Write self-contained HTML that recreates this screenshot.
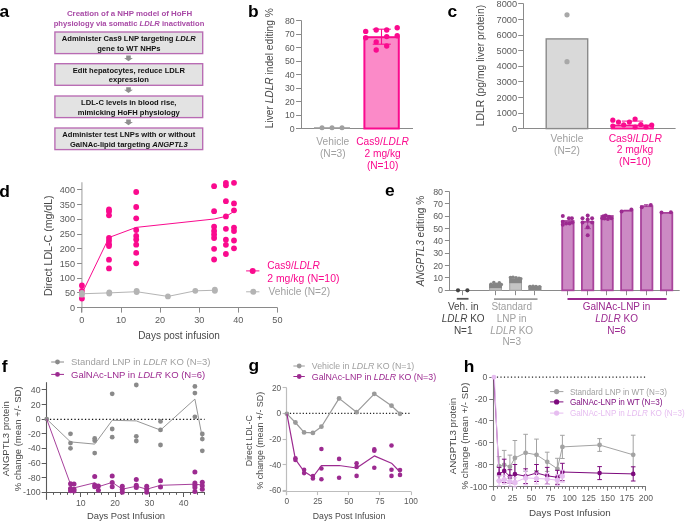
<!DOCTYPE html>
<html><head><meta charset="utf-8"><style>
html,body{margin:0;padding:0;background:#fff;}
svg{display:block;font-family:"Liberation Sans",sans-serif;will-change:transform;}
</style></head><body>
<svg width="685" height="522" viewBox="0 0 685 522">
<rect width="685" height="522" fill="#fff"/>
<text x="-0.60" y="17.00" font-size="17.4" fill="#000" text-anchor="start" font-weight="bold" >a</text>
<text x="129.50" y="16.30" font-size="7.9" fill="#a84aa6" text-anchor="middle" font-weight="bold" >Creation of a NHP model of HoFH</text>
<text x="129.00" y="25.60" font-size="7.9" fill="#a84aa6" text-anchor="middle" font-weight="bold" textLength="150.6" lengthAdjust="spacingAndGlyphs">physiology via somatic <tspan font-style="italic">LDLR</tspan> inactivation</text>
<rect x="54.90" y="32.00" width="147.80" height="21.60" fill="#e3e3e3" stroke="#b86ab3" stroke-width="1.35"/>
<text x="128.80" y="41.00" font-size="7.6" fill="#111" text-anchor="middle" font-weight="bold" >Administer Cas9 LNP targeting <tspan font-style="italic">LDLR</tspan></text>
<text x="128.80" y="50.50" font-size="7.6" fill="#111" text-anchor="middle" font-weight="bold" >gene to WT NHPs</text>
<path d="M126.2,55.60 h4.6 v2.4 h2.1 l-4.4,3.3 l-4.4,-3.3 h2.1 z" fill="#8f8f8f"/>
<rect x="54.90" y="63.70" width="147.80" height="21.60" fill="#e3e3e3" stroke="#b86ab3" stroke-width="1.35"/>
<text x="128.80" y="72.70" font-size="7.6" fill="#111" text-anchor="middle" font-weight="bold" >Edit hepatocytes, reduce LDLR</text>
<text x="128.80" y="82.20" font-size="7.6" fill="#111" text-anchor="middle" font-weight="bold" >expression</text>
<path d="M126.2,87.30 h4.6 v2.4 h2.1 l-4.4,3.3 l-4.4,-3.3 h2.1 z" fill="#8f8f8f"/>
<rect x="54.90" y="96.00" width="147.80" height="21.60" fill="#e3e3e3" stroke="#b86ab3" stroke-width="1.35"/>
<text x="128.80" y="105.00" font-size="7.6" fill="#111" text-anchor="middle" font-weight="bold" >LDL-C levels in blood rise,</text>
<text x="128.80" y="114.50" font-size="7.6" fill="#111" text-anchor="middle" font-weight="bold" >mimicking HoFH physiology</text>
<path d="M126.2,119.60 h4.6 v2.4 h2.1 l-4.4,3.3 l-4.4,-3.3 h2.1 z" fill="#8f8f8f"/>
<rect x="54.90" y="128.00" width="147.80" height="21.60" fill="#e3e3e3" stroke="#b86ab3" stroke-width="1.35"/>
<text x="128.80" y="137.00" font-size="7.6" fill="#111" text-anchor="middle" font-weight="bold" >Administer test LNPs with or without</text>
<text x="128.80" y="146.50" font-size="7.6" fill="#111" text-anchor="middle" font-weight="bold" >GalNAc-lipid targeting <tspan font-style="italic">ANGPTL3</tspan></text>
<text x="248.00" y="16.90" font-size="17.4" fill="#000" text-anchor="start" font-weight="bold" >b</text>
<line x1="301.50" y1="20.50" x2="301.50" y2="128.50" stroke="#8a8a8a" stroke-width="1" />
<line x1="296.10" y1="128.50" x2="413.00" y2="128.50" stroke="#8a8a8a" stroke-width="1" />
<line x1="296.10" y1="128.50" x2="301.50" y2="128.50" stroke="#8a8a8a" stroke-width="1" />
<text x="294.70" y="131.50" font-size="8.8" fill="#5a5a5a" text-anchor="end" font-weight="normal" >0</text>
<line x1="296.10" y1="115.50" x2="301.50" y2="115.50" stroke="#8a8a8a" stroke-width="1" />
<text x="294.70" y="118.00" font-size="8.8" fill="#5a5a5a" text-anchor="end" font-weight="normal" >10</text>
<line x1="296.10" y1="101.50" x2="301.50" y2="101.50" stroke="#8a8a8a" stroke-width="1" />
<text x="294.70" y="104.50" font-size="8.8" fill="#5a5a5a" text-anchor="end" font-weight="normal" >20</text>
<line x1="296.10" y1="88.50" x2="301.50" y2="88.50" stroke="#8a8a8a" stroke-width="1" />
<text x="294.70" y="91.00" font-size="8.8" fill="#5a5a5a" text-anchor="end" font-weight="normal" >30</text>
<line x1="296.10" y1="74.50" x2="301.50" y2="74.50" stroke="#8a8a8a" stroke-width="1" />
<text x="294.70" y="77.50" font-size="8.8" fill="#5a5a5a" text-anchor="end" font-weight="normal" >40</text>
<line x1="296.10" y1="61.50" x2="301.50" y2="61.50" stroke="#8a8a8a" stroke-width="1" />
<text x="294.70" y="64.00" font-size="8.8" fill="#5a5a5a" text-anchor="end" font-weight="normal" >50</text>
<line x1="296.10" y1="47.50" x2="301.50" y2="47.50" stroke="#8a8a8a" stroke-width="1" />
<text x="294.70" y="50.50" font-size="8.8" fill="#5a5a5a" text-anchor="end" font-weight="normal" >60</text>
<line x1="296.10" y1="34.50" x2="301.50" y2="34.50" stroke="#8a8a8a" stroke-width="1" />
<text x="294.70" y="37.00" font-size="8.8" fill="#5a5a5a" text-anchor="end" font-weight="normal" >70</text>
<line x1="296.10" y1="20.50" x2="301.50" y2="20.50" stroke="#8a8a8a" stroke-width="1" />
<text x="294.70" y="23.50" font-size="8.8" fill="#5a5a5a" text-anchor="end" font-weight="normal" >80</text>
<text x="0" y="0" transform="translate(272.70,68.25) rotate(-90)" font-size="10.2" fill="#484848" text-anchor="middle" >Liver <tspan font-style="italic">LDLR</tspan> indel editing %</text>
<line x1="314.00" y1="128.10" x2="350.00" y2="128.10" stroke="#999" stroke-width="1.8" />
<circle cx="322.00" cy="127.80" r="2.5" fill="#a0a0a0" />
<circle cx="332.00" cy="127.80" r="2.5" fill="#a0a0a0" />
<circle cx="342.00" cy="127.80" r="2.5" fill="#a0a0a0" />
<rect x="364.40" y="37.20" width="34.40" height="91.30" fill="#fb8ac8" stroke="#fa0a8e" stroke-width="2"/>
<line x1="381.50" y1="29.20" x2="381.50" y2="44.20" stroke="#fa0a8e" stroke-width="1.1" />
<line x1="372.70" y1="29.20" x2="390.80" y2="29.20" stroke="#fa0a8e" stroke-width="1.1" />
<line x1="372.70" y1="44.20" x2="390.80" y2="44.20" stroke="#fa0a8e" stroke-width="1.1" />
<circle cx="365.70" cy="31.40" r="2.7" fill="#fa0a8e" />
<circle cx="365.70" cy="37.80" r="2.7" fill="#fa0a8e" />
<circle cx="376.20" cy="30.00" r="2.7" fill="#fa0a8e" />
<circle cx="376.20" cy="41.90" r="2.7" fill="#fa0a8e" />
<circle cx="376.20" cy="50.00" r="2.7" fill="#fa0a8e" />
<circle cx="386.70" cy="30.00" r="2.7" fill="#fa0a8e" />
<circle cx="386.70" cy="36.60" r="2.7" fill="#fa0a8e" />
<circle cx="386.70" cy="46.00" r="2.7" fill="#fa0a8e" />
<circle cx="397.20" cy="27.80" r="2.7" fill="#fa0a8e" />
<circle cx="397.20" cy="35.80" r="2.7" fill="#fa0a8e" />
<text x="332.80" y="145.10" font-size="10.2" fill="#a0a0a0" text-anchor="middle" font-weight="normal" >Vehicle</text>
<text x="332.80" y="157.20" font-size="10.2" fill="#a0a0a0" text-anchor="middle" font-weight="normal" >(N=3)</text>
<text x="382.60" y="145.10" font-size="10.2" fill="#fa0a8e" text-anchor="middle" font-weight="normal" >Cas9/<tspan font-style="italic">LDLR</tspan></text>
<text x="382.60" y="157.20" font-size="10.2" fill="#fa0a8e" text-anchor="middle" font-weight="normal" >2 mg/kg</text>
<text x="382.60" y="169.40" font-size="10.2" fill="#fa0a8e" text-anchor="middle" font-weight="normal" >(N=10)</text>
<text x="447.60" y="17.00" font-size="17.4" fill="#000" text-anchor="start" font-weight="bold" >c</text>
<line x1="523.50" y1="3.50" x2="523.50" y2="128.50" stroke="#8a8a8a" stroke-width="1" />
<line x1="518.20" y1="128.50" x2="675.60" y2="128.50" stroke="#8a8a8a" stroke-width="1" />
<line x1="518.20" y1="128.50" x2="523.50" y2="128.50" stroke="#8a8a8a" stroke-width="1" />
<text x="517.00" y="131.70" font-size="9.2" fill="#5a5a5a" text-anchor="end" font-weight="normal" >0</text>
<line x1="518.20" y1="113.50" x2="523.50" y2="113.50" stroke="#8a8a8a" stroke-width="1" />
<text x="517.00" y="116.11" font-size="9.2" fill="#5a5a5a" text-anchor="end" font-weight="normal" >1000</text>
<line x1="518.20" y1="97.50" x2="523.50" y2="97.50" stroke="#8a8a8a" stroke-width="1" />
<text x="517.00" y="100.52" font-size="9.2" fill="#5a5a5a" text-anchor="end" font-weight="normal" >2000</text>
<line x1="518.20" y1="81.50" x2="523.50" y2="81.50" stroke="#8a8a8a" stroke-width="1" />
<text x="517.00" y="84.93" font-size="9.2" fill="#5a5a5a" text-anchor="end" font-weight="normal" >3000</text>
<line x1="518.20" y1="66.50" x2="523.50" y2="66.50" stroke="#8a8a8a" stroke-width="1" />
<text x="517.00" y="69.34" font-size="9.2" fill="#5a5a5a" text-anchor="end" font-weight="normal" >4000</text>
<line x1="518.20" y1="50.50" x2="523.50" y2="50.50" stroke="#8a8a8a" stroke-width="1" />
<text x="517.00" y="53.75" font-size="9.2" fill="#5a5a5a" text-anchor="end" font-weight="normal" >5000</text>
<line x1="518.20" y1="35.50" x2="523.50" y2="35.50" stroke="#8a8a8a" stroke-width="1" />
<text x="517.00" y="38.16" font-size="9.2" fill="#5a5a5a" text-anchor="end" font-weight="normal" >6000</text>
<line x1="518.20" y1="19.50" x2="523.50" y2="19.50" stroke="#8a8a8a" stroke-width="1" />
<text x="517.00" y="22.57" font-size="9.2" fill="#5a5a5a" text-anchor="end" font-weight="normal" >7000</text>
<line x1="518.20" y1="3.50" x2="523.50" y2="3.50" stroke="#8a8a8a" stroke-width="1" />
<text x="517.00" y="6.98" font-size="9.2" fill="#5a5a5a" text-anchor="end" font-weight="normal" >8000</text>
<text x="0" y="0" transform="translate(484.20,65.55) rotate(-90)" font-size="10.35" fill="#484848" text-anchor="middle" >LDLR (pg/mg liver protein)</text>
<rect x="546.20" y="38.90" width="41.50" height="89.70" fill="#d9d9d9" stroke="#8a8a8a" stroke-width="1.4"/>
<circle cx="567.00" cy="14.80" r="2.6" fill="#a8a8a8" />
<circle cx="567.00" cy="61.70" r="2.6" fill="#a8a8a8" />
<rect x="611.80" y="125.40" width="41.20" height="3.20" fill="#fb8ac8" stroke="#fa0a8e" stroke-width="1.6"/>
<line x1="621.80" y1="121.10" x2="643.20" y2="121.10" stroke="#fa0a8e" stroke-width="1.0" />
<circle cx="612.80" cy="120.20" r="2.6" fill="#fa0a8e" />
<circle cx="612.80" cy="126.00" r="2.6" fill="#fa0a8e" />
<circle cx="618.50" cy="122.10" r="2.6" fill="#fa0a8e" />
<circle cx="623.70" cy="124.90" r="2.6" fill="#fa0a8e" />
<circle cx="629.40" cy="122.10" r="2.6" fill="#fa0a8e" />
<circle cx="635.10" cy="119.00" r="2.6" fill="#fa0a8e" />
<circle cx="635.10" cy="127.00" r="2.6" fill="#fa0a8e" />
<circle cx="640.80" cy="124.50" r="2.6" fill="#fa0a8e" />
<circle cx="646.00" cy="127.00" r="2.6" fill="#fa0a8e" />
<circle cx="651.70" cy="125.10" r="2.6" fill="#fa0a8e" />
<text x="567.00" y="141.90" font-size="10.2" fill="#a0a0a0" text-anchor="middle" font-weight="normal" >Vehicle</text>
<text x="567.00" y="153.60" font-size="10.2" fill="#a0a0a0" text-anchor="middle" font-weight="normal" >(N=2)</text>
<text x="635.30" y="141.60" font-size="10.3" fill="#fa0a8e" text-anchor="middle" font-weight="normal" >Cas9/<tspan font-style="italic">LDLR</tspan></text>
<text x="635.00" y="153.40" font-size="10.3" fill="#fa0a8e" text-anchor="middle" font-weight="normal" >2 mg/kg</text>
<text x="635.00" y="165.20" font-size="10.3" fill="#fa0a8e" text-anchor="middle" font-weight="normal" >(N=10)</text>
<text x="-0.80" y="196.60" font-size="17.4" fill="#000" text-anchor="start" font-weight="bold" >d</text>
<line x1="81.90" y1="182.20" x2="81.90" y2="312.60" stroke="#b8b8b8" stroke-width="1.4" />
<line x1="77.10" y1="307.50" x2="277.40" y2="307.50" stroke="#8a8a8a" stroke-width="1" />
<line x1="77.10" y1="307.50" x2="81.90" y2="307.50" stroke="#8a8a8a" stroke-width="1" />
<text x="75.00" y="310.70" font-size="9.1" fill="#5a5a5a" text-anchor="end" font-weight="normal" >0</text>
<line x1="77.10" y1="292.50" x2="81.90" y2="292.50" stroke="#8a8a8a" stroke-width="1" />
<text x="75.00" y="295.99" font-size="9.1" fill="#5a5a5a" text-anchor="end" font-weight="normal" >50</text>
<line x1="77.10" y1="278.50" x2="81.90" y2="278.50" stroke="#8a8a8a" stroke-width="1" />
<text x="75.00" y="281.28" font-size="9.1" fill="#5a5a5a" text-anchor="end" font-weight="normal" >100</text>
<line x1="77.10" y1="263.50" x2="81.90" y2="263.50" stroke="#8a8a8a" stroke-width="1" />
<text x="75.00" y="266.56" font-size="9.1" fill="#5a5a5a" text-anchor="end" font-weight="normal" >150</text>
<line x1="77.10" y1="248.50" x2="81.90" y2="248.50" stroke="#8a8a8a" stroke-width="1" />
<text x="75.00" y="251.85" font-size="9.1" fill="#5a5a5a" text-anchor="end" font-weight="normal" >200</text>
<line x1="77.10" y1="234.50" x2="81.90" y2="234.50" stroke="#8a8a8a" stroke-width="1" />
<text x="75.00" y="237.14" font-size="9.1" fill="#5a5a5a" text-anchor="end" font-weight="normal" >250</text>
<line x1="77.10" y1="219.50" x2="81.90" y2="219.50" stroke="#8a8a8a" stroke-width="1" />
<text x="75.00" y="222.43" font-size="9.1" fill="#5a5a5a" text-anchor="end" font-weight="normal" >300</text>
<line x1="77.10" y1="204.50" x2="81.90" y2="204.50" stroke="#8a8a8a" stroke-width="1" />
<text x="75.00" y="207.71" font-size="9.1" fill="#5a5a5a" text-anchor="end" font-weight="normal" >350</text>
<line x1="77.10" y1="189.50" x2="81.90" y2="189.50" stroke="#8a8a8a" stroke-width="1" />
<text x="75.00" y="193.00" font-size="9.1" fill="#5a5a5a" text-anchor="end" font-weight="normal" >400</text>
<line x1="81.50" y1="307.50" x2="81.50" y2="312.60" stroke="#8a8a8a" stroke-width="1" />
<text x="81.90" y="323.30" font-size="9.1" fill="#5a5a5a" text-anchor="middle" font-weight="normal" >0</text>
<line x1="121.50" y1="307.50" x2="121.50" y2="312.60" stroke="#8a8a8a" stroke-width="1" />
<text x="121.00" y="323.30" font-size="9.1" fill="#5a5a5a" text-anchor="middle" font-weight="normal" >10</text>
<line x1="160.50" y1="307.50" x2="160.50" y2="312.60" stroke="#8a8a8a" stroke-width="1" />
<text x="160.10" y="323.30" font-size="9.1" fill="#5a5a5a" text-anchor="middle" font-weight="normal" >20</text>
<line x1="199.50" y1="307.50" x2="199.50" y2="312.60" stroke="#8a8a8a" stroke-width="1" />
<text x="199.20" y="323.30" font-size="9.1" fill="#5a5a5a" text-anchor="middle" font-weight="normal" >30</text>
<line x1="238.50" y1="307.50" x2="238.50" y2="312.60" stroke="#8a8a8a" stroke-width="1" />
<text x="238.30" y="323.30" font-size="9.1" fill="#5a5a5a" text-anchor="middle" font-weight="normal" >40</text>
<line x1="277.50" y1="307.50" x2="277.50" y2="312.60" stroke="#8a8a8a" stroke-width="1" />
<text x="277.40" y="323.30" font-size="9.1" fill="#5a5a5a" text-anchor="middle" font-weight="normal" >50</text>
<text x="179.00" y="339.00" font-size="10" fill="#484848" text-anchor="middle" font-weight="normal" >Days post infusion</text>
<text x="0" y="0" transform="translate(52.30,245.70) rotate(-90)" font-size="10.6" fill="#484848" text-anchor="middle" >Direct LDL-C (mg/dL)</text>
<polyline points="83.80,289.70 109.00,237.50 136.20,227.40 214.10,219.00 225.90,216.40 234.00,211.50" fill="none" stroke="#fa0a8e" stroke-width="1" stroke-linejoin="round" />
<circle cx="81.90" cy="285.40" r="2.9" fill="#fa0a8e" />
<circle cx="81.90" cy="291.00" r="2.9" fill="#fa0a8e" />
<circle cx="81.90" cy="298.50" r="2.9" fill="#fa0a8e" />
<circle cx="109.00" cy="209.50" r="2.9" fill="#fa0a8e" />
<circle cx="109.00" cy="211.50" r="2.9" fill="#fa0a8e" />
<circle cx="109.00" cy="215.30" r="2.9" fill="#fa0a8e" />
<circle cx="109.00" cy="237.80" r="2.9" fill="#fa0a8e" />
<circle cx="109.00" cy="240.70" r="2.9" fill="#fa0a8e" />
<circle cx="109.00" cy="244.20" r="2.9" fill="#fa0a8e" />
<circle cx="109.00" cy="246.00" r="2.9" fill="#fa0a8e" />
<circle cx="109.00" cy="259.70" r="2.9" fill="#fa0a8e" />
<circle cx="109.00" cy="268.40" r="2.9" fill="#fa0a8e" />
<circle cx="136.20" cy="192.00" r="2.9" fill="#fa0a8e" />
<circle cx="136.20" cy="207.00" r="2.9" fill="#fa0a8e" />
<circle cx="136.20" cy="218.30" r="2.9" fill="#fa0a8e" />
<circle cx="136.20" cy="230.00" r="2.9" fill="#fa0a8e" />
<circle cx="136.20" cy="236.00" r="2.9" fill="#fa0a8e" />
<circle cx="136.20" cy="239.50" r="2.9" fill="#fa0a8e" />
<circle cx="136.20" cy="244.70" r="2.9" fill="#fa0a8e" />
<circle cx="136.20" cy="252.90" r="2.9" fill="#fa0a8e" />
<circle cx="136.20" cy="263.30" r="2.9" fill="#fa0a8e" />
<circle cx="214.10" cy="186.20" r="2.9" fill="#fa0a8e" />
<circle cx="214.10" cy="211.20" r="2.9" fill="#fa0a8e" />
<circle cx="214.10" cy="226.70" r="2.9" fill="#fa0a8e" />
<circle cx="214.10" cy="231.00" r="2.9" fill="#fa0a8e" />
<circle cx="214.10" cy="234.50" r="2.9" fill="#fa0a8e" />
<circle cx="214.10" cy="238.00" r="2.9" fill="#fa0a8e" />
<circle cx="214.10" cy="248.80" r="2.9" fill="#fa0a8e" />
<circle cx="214.10" cy="259.50" r="2.9" fill="#fa0a8e" />
<circle cx="225.90" cy="182.80" r="2.9" fill="#fa0a8e" />
<circle cx="225.90" cy="185.30" r="2.9" fill="#fa0a8e" />
<circle cx="225.90" cy="201.20" r="2.9" fill="#fa0a8e" />
<circle cx="225.90" cy="216.40" r="2.9" fill="#fa0a8e" />
<circle cx="225.90" cy="228.80" r="2.9" fill="#fa0a8e" />
<circle cx="225.90" cy="239.70" r="2.9" fill="#fa0a8e" />
<circle cx="225.90" cy="244.80" r="2.9" fill="#fa0a8e" />
<circle cx="225.90" cy="254.00" r="2.9" fill="#fa0a8e" />
<circle cx="234.00" cy="182.80" r="2.9" fill="#fa0a8e" />
<circle cx="234.00" cy="203.40" r="2.9" fill="#fa0a8e" />
<circle cx="234.00" cy="210.30" r="2.9" fill="#fa0a8e" />
<circle cx="234.00" cy="227.60" r="2.9" fill="#fa0a8e" />
<circle cx="234.00" cy="231.00" r="2.9" fill="#fa0a8e" />
<circle cx="234.00" cy="240.50" r="2.9" fill="#fa0a8e" />
<circle cx="234.00" cy="248.30" r="2.9" fill="#fa0a8e" />
<polyline points="81.90,293.77 109.27,292.89 136.64,291.71 167.92,296.42 195.29,290.83 214.84,290.24" fill="none" stroke="#b4b4b4" stroke-width="1" stroke-linejoin="round" />
<circle cx="81.90" cy="294.65" r="2.9" fill="#b4b4b4" />
<circle cx="81.90" cy="292.89" r="2.9" fill="#b4b4b4" />
<circle cx="109.27" cy="293.48" r="2.9" fill="#b4b4b4" />
<circle cx="109.27" cy="292.30" r="2.9" fill="#b4b4b4" />
<circle cx="136.64" cy="292.00" r="2.9" fill="#b4b4b4" />
<circle cx="136.64" cy="290.83" r="2.9" fill="#b4b4b4" />
<circle cx="167.92" cy="296.42" r="2.9" fill="#b4b4b4" />
<circle cx="195.29" cy="290.83" r="2.9" fill="#b4b4b4" />
<circle cx="214.84" cy="290.83" r="2.9" fill="#b4b4b4" />
<circle cx="214.84" cy="289.65" r="2.9" fill="#b4b4b4" />
<line x1="246.10" y1="270.90" x2="259.40" y2="270.90" stroke="#fa0a8e" stroke-width="1" />
<circle cx="252.70" cy="270.90" r="3" fill="#fa0a8e" />
<text x="267.20" y="268.90" font-size="10.2" fill="#fa0a8e" text-anchor="start" font-weight="normal" >Cas9/<tspan font-style="italic">LDLR</tspan></text>
<text x="267.20" y="281.60" font-size="10.45" fill="#fa0a8e" text-anchor="start" font-weight="normal" >2 mg/kg (N=10)</text>
<line x1="246.10" y1="291.80" x2="259.40" y2="291.80" stroke="#b4b4b4" stroke-width="1" />
<circle cx="253.30" cy="291.80" r="3" fill="#b4b4b4" />
<text x="268.60" y="295.30" font-size="10.2" fill="#a0a0a0" text-anchor="start" font-weight="normal" >Vehicle (N=2)</text>
<text x="385.00" y="196.20" font-size="17.4" fill="#000" text-anchor="start" font-weight="bold" >e</text>
<line x1="449.50" y1="191.50" x2="449.50" y2="290.50" stroke="#8a8a8a" stroke-width="1" />
<line x1="444.90" y1="290.50" x2="679.70" y2="290.50" stroke="#8a8a8a" stroke-width="1" />
<line x1="444.90" y1="290.50" x2="449.40" y2="290.50" stroke="#8a8a8a" stroke-width="1" />
<text x="443.00" y="293.40" font-size="8.9" fill="#5a5a5a" text-anchor="end" font-weight="normal" >0</text>
<line x1="444.90" y1="277.50" x2="449.40" y2="277.50" stroke="#8a8a8a" stroke-width="1" />
<text x="443.00" y="281.04" font-size="8.9" fill="#5a5a5a" text-anchor="end" font-weight="normal" >10</text>
<line x1="444.90" y1="265.50" x2="449.40" y2="265.50" stroke="#8a8a8a" stroke-width="1" />
<text x="443.00" y="268.68" font-size="8.9" fill="#5a5a5a" text-anchor="end" font-weight="normal" >20</text>
<line x1="444.90" y1="253.50" x2="449.40" y2="253.50" stroke="#8a8a8a" stroke-width="1" />
<text x="443.00" y="256.32" font-size="8.9" fill="#5a5a5a" text-anchor="end" font-weight="normal" >30</text>
<line x1="444.90" y1="240.50" x2="449.40" y2="240.50" stroke="#8a8a8a" stroke-width="1" />
<text x="443.00" y="243.96" font-size="8.9" fill="#5a5a5a" text-anchor="end" font-weight="normal" >40</text>
<line x1="444.90" y1="228.50" x2="449.40" y2="228.50" stroke="#8a8a8a" stroke-width="1" />
<text x="443.00" y="231.60" font-size="8.9" fill="#5a5a5a" text-anchor="end" font-weight="normal" >50</text>
<line x1="444.90" y1="216.50" x2="449.40" y2="216.50" stroke="#8a8a8a" stroke-width="1" />
<text x="443.00" y="219.24" font-size="8.9" fill="#5a5a5a" text-anchor="end" font-weight="normal" >60</text>
<line x1="444.90" y1="203.50" x2="449.40" y2="203.50" stroke="#8a8a8a" stroke-width="1" />
<text x="443.00" y="206.88" font-size="8.9" fill="#5a5a5a" text-anchor="end" font-weight="normal" >70</text>
<line x1="444.90" y1="191.50" x2="449.40" y2="191.50" stroke="#8a8a8a" stroke-width="1" />
<text x="443.00" y="194.52" font-size="8.9" fill="#5a5a5a" text-anchor="end" font-weight="normal" >80</text>
<line x1="462.50" y1="290.50" x2="462.50" y2="295.20" stroke="#8a8a8a" stroke-width="1" />
<line x1="495.50" y1="290.50" x2="495.50" y2="295.20" stroke="#8a8a8a" stroke-width="1" />
<line x1="515.50" y1="290.50" x2="515.50" y2="295.20" stroke="#8a8a8a" stroke-width="1" />
<line x1="534.50" y1="290.50" x2="534.50" y2="295.20" stroke="#8a8a8a" stroke-width="1" />
<line x1="567.50" y1="290.50" x2="567.50" y2="295.20" stroke="#8a8a8a" stroke-width="1" />
<line x1="587.50" y1="290.50" x2="587.50" y2="295.20" stroke="#8a8a8a" stroke-width="1" />
<line x1="606.50" y1="290.50" x2="606.50" y2="295.20" stroke="#8a8a8a" stroke-width="1" />
<line x1="626.50" y1="290.50" x2="626.50" y2="295.20" stroke="#8a8a8a" stroke-width="1" />
<line x1="646.50" y1="290.50" x2="646.50" y2="295.20" stroke="#8a8a8a" stroke-width="1" />
<line x1="666.50" y1="290.50" x2="666.50" y2="295.20" stroke="#8a8a8a" stroke-width="1" />
<text x="0" y="0" transform="translate(424.20,241.05) rotate(-90)" font-size="10.15" fill="#484848" text-anchor="middle" ><tspan font-style="italic">ANGPTL3</tspan> editing %</text>
<circle cx="458.00" cy="290.30" r="2.1" fill="#444" />
<circle cx="467.40" cy="290.30" r="2.1" fill="#444" />
<line x1="456.80" y1="298.80" x2="468.50" y2="298.80" stroke="#555" stroke-width="1.8" />
<rect x="489.60" y="285.50" width="11.80" height="4.80" fill="#c4c4c4" stroke="#a0a0a0" stroke-width="1"/>
<rect x="489.10" y="283.80" width="12.80" height="4.40" fill="#858585" stroke="none" stroke-width="0"/>
<rect x="509.70" y="279.00" width="11.80" height="11.30" fill="#c4c4c4" stroke="#a0a0a0" stroke-width="1"/>
<rect x="509.20" y="278.60" width="12.80" height="4.60" fill="#858585" stroke="none" stroke-width="0"/>
<rect x="529.00" y="286.40" width="11.80" height="3.90" fill="#c4c4c4" stroke="#a0a0a0" stroke-width="1"/>
<rect x="528.50" y="286.00" width="12.80" height="4.30" fill="#858585" stroke="none" stroke-width="0"/>
<circle cx="491.00" cy="284.20" r="1.8" fill="#858585" />
<circle cx="493.80" cy="282.60" r="1.8" fill="#858585" />
<circle cx="496.50" cy="284.20" r="1.8" fill="#858585" />
<circle cx="499.30" cy="282.80" r="1.8" fill="#858585" />
<circle cx="501.30" cy="284.60" r="1.8" fill="#858585" />
<circle cx="510.50" cy="277.60" r="1.8" fill="#858585" />
<circle cx="513.00" cy="277.20" r="1.8" fill="#858585" />
<circle cx="516.00" cy="277.80" r="1.8" fill="#858585" />
<circle cx="519.00" cy="278.30" r="1.8" fill="#858585" />
<circle cx="520.80" cy="278.80" r="1.8" fill="#858585" />
<circle cx="530.00" cy="286.60" r="1.8" fill="#858585" />
<circle cx="533.00" cy="286.30" r="1.8" fill="#858585" />
<circle cx="536.00" cy="286.50" r="1.8" fill="#858585" />
<circle cx="539.60" cy="286.80" r="1.8" fill="#858585" />
<line x1="494.00" y1="299.10" x2="537.50" y2="299.10" stroke="#999" stroke-width="1.8" />
<rect x="562.20" y="221.00" width="11.40" height="69.30" fill="#cc8ac4" stroke="#a8449c" stroke-width="1.8"/>
<rect x="581.90" y="221.80" width="11.40" height="68.50" fill="#cc8ac4" stroke="#a8449c" stroke-width="1.8"/>
<rect x="601.40" y="216.00" width="11.40" height="74.30" fill="#cc8ac4" stroke="#a8449c" stroke-width="1.8"/>
<rect x="621.10" y="210.80" width="11.40" height="79.50" fill="#cc8ac4" stroke="#a8449c" stroke-width="1.8"/>
<rect x="641.00" y="206.20" width="11.40" height="84.10" fill="#cc8ac4" stroke="#a8449c" stroke-width="1.8"/>
<rect x="660.90" y="212.90" width="11.40" height="77.40" fill="#cc8ac4" stroke="#a8449c" stroke-width="1.8"/>
<circle cx="562.80" cy="216.00" r="2.0" fill="#9c2a90" />
<circle cx="568.90" cy="218.30" r="2.0" fill="#9c2a90" />
<circle cx="571.90" cy="218.30" r="2.0" fill="#9c2a90" />
<circle cx="562.80" cy="221.70" r="2.0" fill="#9c2a90" />
<circle cx="566.20" cy="223.60" r="2.0" fill="#9c2a90" />
<circle cx="569.60" cy="223.60" r="2.0" fill="#9c2a90" />
<circle cx="572.50" cy="222.60" r="2.0" fill="#9c2a90" />
<circle cx="562.80" cy="224.80" r="2.0" fill="#9c2a90" />
<circle cx="587.70" cy="215.40" r="2.0" fill="#9c2a90" />
<circle cx="582.50" cy="218.30" r="2.0" fill="#9c2a90" />
<circle cx="592.10" cy="218.30" r="2.0" fill="#9c2a90" />
<circle cx="587.70" cy="219.50" r="2.0" fill="#9c2a90" />
<circle cx="582.50" cy="222.60" r="2.0" fill="#9c2a90" />
<circle cx="592.10" cy="222.60" r="2.0" fill="#9c2a90" />
<circle cx="587.70" cy="227.30" r="2.0" fill="#9c2a90" />
<circle cx="587.70" cy="235.20" r="2.0" fill="#9c2a90" />
<circle cx="603.40" cy="216.20" r="2.0" fill="#9c2a90" />
<circle cx="605.70" cy="215.60" r="2.0" fill="#9c2a90" />
<circle cx="609.00" cy="216.70" r="2.0" fill="#9c2a90" />
<circle cx="611.30" cy="218.30" r="2.0" fill="#9c2a90" />
<circle cx="607.90" cy="219.00" r="2.0" fill="#9c2a90" />
<circle cx="602.30" cy="218.30" r="2.0" fill="#9c2a90" />
<circle cx="604.50" cy="218.50" r="2.0" fill="#9c2a90" />
<circle cx="621.60" cy="211.50" r="2.0" fill="#9c2a90" />
<circle cx="631.40" cy="209.40" r="2.0" fill="#9c2a90" />
<circle cx="641.80" cy="207.20" r="2.0" fill="#9c2a90" />
<circle cx="650.80" cy="204.90" r="2.0" fill="#9c2a90" />
<circle cx="661.50" cy="212.60" r="2.0" fill="#9c2a90" />
<circle cx="670.90" cy="212.20" r="2.0" fill="#9c2a90" />
<line x1="587.70" y1="215.40" x2="587.70" y2="228.70" stroke="#9c2a90" stroke-width="0.8" />
<line x1="584.50" y1="228.70" x2="590.90" y2="228.70" stroke="#9c2a90" stroke-width="0.8" />
<line x1="623.90" y1="210.30" x2="629.50" y2="210.30" stroke="#9c2a90" stroke-width="0.9" />
<line x1="644.00" y1="204.70" x2="648.50" y2="204.70" stroke="#9c2a90" stroke-width="0.9" />
<line x1="646.20" y1="204.70" x2="646.20" y2="207.00" stroke="#9c2a90" stroke-width="0.8" />
<line x1="567.50" y1="299.00" x2="666.60" y2="299.00" stroke="#9c2a90" stroke-width="1.8" />
<text x="463.20" y="310.00" font-size="10" fill="#444" text-anchor="middle" font-weight="normal" >Veh. in</text>
<text x="463.20" y="321.80" font-size="10" fill="#444" text-anchor="middle" font-weight="normal" ><tspan font-style="italic">LDLR</tspan> KO</text>
<text x="463.20" y="333.50" font-size="10" fill="#444" text-anchor="middle" font-weight="normal" >N=1</text>
<text x="511.70" y="310.00" font-size="10" fill="#a0a0a0" text-anchor="middle" font-weight="normal" >Standard</text>
<text x="511.70" y="321.80" font-size="10" fill="#a0a0a0" text-anchor="middle" font-weight="normal" >LNP in</text>
<text x="511.70" y="333.50" font-size="10" fill="#a0a0a0" text-anchor="middle" font-weight="normal" ><tspan font-style="italic">LDLR</tspan> KO</text>
<text x="511.70" y="345.00" font-size="10" fill="#a0a0a0" text-anchor="middle" font-weight="normal" >N=3</text>
<text x="616.60" y="309.80" font-size="10" fill="#9c2a90" text-anchor="middle" font-weight="normal" >GalNAc-LNP in</text>
<text x="616.60" y="321.90" font-size="10" fill="#9c2a90" text-anchor="middle" font-weight="normal" ><tspan font-style="italic">LDLR</tspan> KO</text>
<text x="616.60" y="333.50" font-size="10" fill="#9c2a90" text-anchor="middle" font-weight="normal" >N=6</text>
<text x="1.80" y="371.50" font-size="17.4" fill="#000" text-anchor="start" font-weight="bold" >f</text>
<line x1="46.50" y1="382.20" x2="46.50" y2="499.80" stroke="#5a5a5a" stroke-width="1.1" />
<line x1="42.10" y1="492.50" x2="205.00" y2="492.50" stroke="#5a5a5a" stroke-width="1.1" />
<line x1="41.70" y1="389.50" x2="46.40" y2="389.50" stroke="#5a5a5a" stroke-width="1" />
<text x="40.60" y="392.97" font-size="8.8" fill="#5a5a5a" text-anchor="end" font-weight="normal" >40</text>
<line x1="41.70" y1="404.50" x2="46.40" y2="404.50" stroke="#5a5a5a" stroke-width="1" />
<text x="40.60" y="407.59" font-size="8.8" fill="#5a5a5a" text-anchor="end" font-weight="normal" >20</text>
<line x1="41.70" y1="419.50" x2="46.40" y2="419.50" stroke="#5a5a5a" stroke-width="1" />
<text x="40.60" y="422.20" font-size="8.8" fill="#5a5a5a" text-anchor="end" font-weight="normal" >0</text>
<line x1="41.70" y1="433.50" x2="46.40" y2="433.50" stroke="#5a5a5a" stroke-width="1" />
<text x="40.60" y="436.81" font-size="8.8" fill="#5a5a5a" text-anchor="end" font-weight="normal" >-20</text>
<line x1="41.70" y1="448.50" x2="46.40" y2="448.50" stroke="#5a5a5a" stroke-width="1" />
<text x="40.60" y="451.43" font-size="8.8" fill="#5a5a5a" text-anchor="end" font-weight="normal" >-40</text>
<line x1="41.70" y1="463.50" x2="46.40" y2="463.50" stroke="#5a5a5a" stroke-width="1" />
<text x="40.60" y="466.04" font-size="8.8" fill="#5a5a5a" text-anchor="end" font-weight="normal" >-60</text>
<line x1="41.70" y1="477.50" x2="46.40" y2="477.50" stroke="#5a5a5a" stroke-width="1" />
<text x="40.60" y="480.66" font-size="8.8" fill="#5a5a5a" text-anchor="end" font-weight="normal" >-80</text>
<line x1="41.70" y1="492.50" x2="46.40" y2="492.50" stroke="#5a5a5a" stroke-width="1" />
<text x="40.60" y="495.27" font-size="8.8" fill="#5a5a5a" text-anchor="end" font-weight="normal" >-100</text>
<line x1="53.50" y1="492.50" x2="53.50" y2="494.80" stroke="#5a5a5a" stroke-width="1" />
<line x1="60.50" y1="492.50" x2="60.50" y2="494.80" stroke="#5a5a5a" stroke-width="1" />
<line x1="67.50" y1="492.50" x2="67.50" y2="494.80" stroke="#5a5a5a" stroke-width="1" />
<line x1="73.50" y1="492.50" x2="73.50" y2="494.80" stroke="#5a5a5a" stroke-width="1" />
<line x1="80.50" y1="492.50" x2="80.50" y2="497.00" stroke="#5a5a5a" stroke-width="1" />
<line x1="87.50" y1="492.50" x2="87.50" y2="494.80" stroke="#5a5a5a" stroke-width="1" />
<line x1="94.50" y1="492.50" x2="94.50" y2="494.80" stroke="#5a5a5a" stroke-width="1" />
<line x1="101.50" y1="492.50" x2="101.50" y2="494.80" stroke="#5a5a5a" stroke-width="1" />
<line x1="108.50" y1="492.50" x2="108.50" y2="494.80" stroke="#5a5a5a" stroke-width="1" />
<line x1="115.50" y1="492.50" x2="115.50" y2="497.00" stroke="#5a5a5a" stroke-width="1" />
<line x1="121.50" y1="492.50" x2="121.50" y2="494.80" stroke="#5a5a5a" stroke-width="1" />
<line x1="128.50" y1="492.50" x2="128.50" y2="494.80" stroke="#5a5a5a" stroke-width="1" />
<line x1="135.50" y1="492.50" x2="135.50" y2="494.80" stroke="#5a5a5a" stroke-width="1" />
<line x1="142.50" y1="492.50" x2="142.50" y2="494.80" stroke="#5a5a5a" stroke-width="1" />
<line x1="149.50" y1="492.50" x2="149.50" y2="497.00" stroke="#5a5a5a" stroke-width="1" />
<line x1="156.50" y1="492.50" x2="156.50" y2="494.80" stroke="#5a5a5a" stroke-width="1" />
<line x1="163.50" y1="492.50" x2="163.50" y2="494.80" stroke="#5a5a5a" stroke-width="1" />
<line x1="169.50" y1="492.50" x2="169.50" y2="494.80" stroke="#5a5a5a" stroke-width="1" />
<line x1="176.50" y1="492.50" x2="176.50" y2="494.80" stroke="#5a5a5a" stroke-width="1" />
<line x1="183.50" y1="492.50" x2="183.50" y2="497.00" stroke="#5a5a5a" stroke-width="1" />
<line x1="190.50" y1="492.50" x2="190.50" y2="494.80" stroke="#5a5a5a" stroke-width="1" />
<line x1="197.50" y1="492.50" x2="197.50" y2="494.80" stroke="#5a5a5a" stroke-width="1" />
<line x1="204.50" y1="492.50" x2="204.50" y2="494.80" stroke="#5a5a5a" stroke-width="1" />
<text x="80.80" y="505.60" font-size="8.7" fill="#5a5a5a" text-anchor="middle" font-weight="normal" >10</text>
<text x="115.10" y="505.60" font-size="8.7" fill="#5a5a5a" text-anchor="middle" font-weight="normal" >20</text>
<text x="149.40" y="505.60" font-size="8.7" fill="#5a5a5a" text-anchor="middle" font-weight="normal" >30</text>
<text x="183.70" y="505.60" font-size="8.7" fill="#5a5a5a" text-anchor="middle" font-weight="normal" >40</text>
<text x="126.00" y="518.70" font-size="9.4" fill="#484848" text-anchor="middle" font-weight="normal" >Days Post Infusion</text>
<text x="0" y="0" transform="translate(8.90,438.80) rotate(-90)" font-size="9.5" fill="#484848" text-anchor="middle" >ANGPTL3 protein</text>
<text x="0" y="0" transform="translate(20.80,438.80) rotate(-90)" font-size="9.5" fill="#484848" text-anchor="middle" >% change (mean +/- SD)</text>
<line x1="46.40" y1="419.40" x2="204.60" y2="419.40" stroke="#111" stroke-width="1.3" stroke-dasharray="1.3 2.2"/>
<polyline points="46.70,419.10 70.50,441.90 94.70,444.10 112.20,420.30 136.30,420.90 160.50,430.10 194.90,399.10 202.30,437.50" fill="none" stroke="#8a8a8a" stroke-width="0.9" stroke-linejoin="round" />
<circle cx="70.50" cy="433.80" r="2.4" fill="#8a8a8a" />
<circle cx="70.50" cy="443.10" r="2.4" fill="#8a8a8a" />
<circle cx="70.50" cy="448.30" r="2.4" fill="#8a8a8a" />
<circle cx="94.70" cy="438.40" r="2.4" fill="#8a8a8a" />
<circle cx="94.70" cy="440.70" r="2.4" fill="#8a8a8a" />
<circle cx="94.70" cy="453.10" r="2.4" fill="#8a8a8a" />
<circle cx="112.20" cy="393.80" r="2.4" fill="#8a8a8a" />
<circle cx="112.20" cy="429.00" r="2.4" fill="#8a8a8a" />
<circle cx="112.20" cy="437.20" r="2.4" fill="#8a8a8a" />
<circle cx="136.30" cy="385.00" r="2.4" fill="#8a8a8a" />
<circle cx="136.30" cy="436.30" r="2.4" fill="#8a8a8a" />
<circle cx="136.30" cy="441.00" r="2.4" fill="#8a8a8a" />
<circle cx="160.50" cy="421.40" r="2.4" fill="#8a8a8a" />
<circle cx="160.50" cy="429.90" r="2.4" fill="#8a8a8a" />
<circle cx="160.50" cy="445.00" r="2.4" fill="#8a8a8a" />
<circle cx="194.90" cy="386.40" r="2.4" fill="#8a8a8a" />
<circle cx="194.90" cy="393.10" r="2.4" fill="#8a8a8a" />
<circle cx="194.90" cy="416.80" r="2.4" fill="#8a8a8a" />
<circle cx="202.30" cy="434.00" r="2.4" fill="#8a8a8a" />
<circle cx="202.30" cy="439.10" r="2.4" fill="#8a8a8a" />
<circle cx="202.30" cy="450.80" r="2.4" fill="#8a8a8a" />
<circle cx="46.70" cy="419.10" r="2.4" fill="#8a8a8a" />
<polyline points="46.70,419.10 72.00,488.40 94.70,482.80 98.40,486.70 112.20,482.40 122.30,489.20 136.30,486.20 146.70,489.20 160.50,485.30 194.90,484.20 202.30,485.00" fill="none" stroke="#9c2a90" stroke-width="0.9" stroke-linejoin="round" />
<circle cx="70.50" cy="483.80" r="2.5" fill="#9c2a90" />
<circle cx="70.50" cy="488.40" r="2.5" fill="#9c2a90" />
<circle cx="70.50" cy="490.70" r="2.5" fill="#9c2a90" />
<circle cx="74.00" cy="484.10" r="2.5" fill="#9c2a90" />
<circle cx="74.00" cy="489.30" r="2.5" fill="#9c2a90" />
<circle cx="74.00" cy="491.00" r="2.5" fill="#9c2a90" />
<circle cx="94.70" cy="476.40" r="2.5" fill="#9c2a90" />
<circle cx="94.70" cy="485.00" r="2.5" fill="#9c2a90" />
<circle cx="94.70" cy="486.70" r="2.5" fill="#9c2a90" />
<circle cx="98.40" cy="485.90" r="2.5" fill="#9c2a90" />
<circle cx="98.40" cy="490.20" r="2.5" fill="#9c2a90" />
<circle cx="112.20" cy="476.00" r="2.5" fill="#9c2a90" />
<circle cx="112.20" cy="482.40" r="2.5" fill="#9c2a90" />
<circle cx="112.20" cy="486.70" r="2.5" fill="#9c2a90" />
<circle cx="122.30" cy="486.20" r="2.5" fill="#9c2a90" />
<circle cx="122.30" cy="489.20" r="2.5" fill="#9c2a90" />
<circle cx="122.30" cy="492.20" r="2.5" fill="#9c2a90" />
<circle cx="136.30" cy="479.50" r="2.5" fill="#9c2a90" />
<circle cx="136.30" cy="485.30" r="2.5" fill="#9c2a90" />
<circle cx="136.30" cy="487.60" r="2.5" fill="#9c2a90" />
<circle cx="146.70" cy="486.20" r="2.5" fill="#9c2a90" />
<circle cx="146.70" cy="489.20" r="2.5" fill="#9c2a90" />
<circle cx="146.70" cy="492.20" r="2.5" fill="#9c2a90" />
<circle cx="160.50" cy="480.70" r="2.5" fill="#9c2a90" />
<circle cx="160.50" cy="486.90" r="2.5" fill="#9c2a90" />
<circle cx="194.90" cy="472.00" r="2.5" fill="#9c2a90" />
<circle cx="194.90" cy="483.00" r="2.5" fill="#9c2a90" />
<circle cx="194.90" cy="485.30" r="2.5" fill="#9c2a90" />
<circle cx="194.90" cy="487.60" r="2.5" fill="#9c2a90" />
<circle cx="194.90" cy="491.50" r="2.5" fill="#9c2a90" />
<circle cx="202.30" cy="482.30" r="2.5" fill="#9c2a90" />
<circle cx="202.30" cy="485.70" r="2.5" fill="#9c2a90" />
<circle cx="202.30" cy="489.20" r="2.5" fill="#9c2a90" />
<line x1="51.20" y1="362.00" x2="64.00" y2="362.00" stroke="#8a8a8a" stroke-width="1" />
<circle cx="57.50" cy="362.00" r="2.4" fill="#8a8a8a" />
<text x="71.00" y="365.10" font-size="9.5" fill="#a0a0a0" text-anchor="start" font-weight="normal" >Standard LNP in <tspan font-style="italic">LDLR</tspan> KO (N=3)</text>
<line x1="51.20" y1="374.40" x2="64.00" y2="374.40" stroke="#9c2a90" stroke-width="1" />
<circle cx="57.50" cy="374.40" r="2.4" fill="#9c2a90" />
<text x="71.00" y="377.80" font-size="9.5" fill="#9c2a90" text-anchor="start" font-weight="normal" >GalNAc-LNP in <tspan font-style="italic">LDLR</tspan> KO (N=6)</text>
<text x="248.40" y="371.20" font-size="17.4" fill="#000" text-anchor="start" font-weight="bold" >g</text>
<line x1="286.50" y1="387.70" x2="286.50" y2="495.10" stroke="#bdbdbd" stroke-width="1.2" />
<line x1="282.60" y1="491.50" x2="411.00" y2="491.50" stroke="#bdbdbd" stroke-width="1.2" />
<line x1="282.60" y1="387.50" x2="286.70" y2="387.50" stroke="#bdbdbd" stroke-width="1.1" />
<text x="281.20" y="390.60" font-size="8.3" fill="#5a5a5a" text-anchor="end" font-weight="normal" >20</text>
<line x1="282.60" y1="413.50" x2="286.70" y2="413.50" stroke="#bdbdbd" stroke-width="1.1" />
<text x="281.20" y="416.30" font-size="8.3" fill="#5a5a5a" text-anchor="end" font-weight="normal" >0</text>
<line x1="282.60" y1="439.50" x2="286.70" y2="439.50" stroke="#bdbdbd" stroke-width="1.1" />
<text x="281.20" y="442.00" font-size="8.3" fill="#5a5a5a" text-anchor="end" font-weight="normal" >-20</text>
<line x1="282.60" y1="464.50" x2="286.70" y2="464.50" stroke="#bdbdbd" stroke-width="1.1" />
<text x="281.20" y="467.70" font-size="8.3" fill="#5a5a5a" text-anchor="end" font-weight="normal" >-40</text>
<line x1="282.60" y1="490.50" x2="286.70" y2="490.50" stroke="#bdbdbd" stroke-width="1.1" />
<text x="281.20" y="493.40" font-size="8.3" fill="#5a5a5a" text-anchor="end" font-weight="normal" >-60</text>
<line x1="286.50" y1="491.50" x2="286.50" y2="495.10" stroke="#bdbdbd" stroke-width="1.1" />
<text x="286.70" y="504.20" font-size="8.3" fill="#5a5a5a" text-anchor="middle" font-weight="normal" >0</text>
<line x1="317.50" y1="491.50" x2="317.50" y2="495.10" stroke="#bdbdbd" stroke-width="1.1" />
<text x="317.77" y="504.20" font-size="8.3" fill="#5a5a5a" text-anchor="middle" font-weight="normal" >25</text>
<line x1="348.50" y1="491.50" x2="348.50" y2="495.10" stroke="#bdbdbd" stroke-width="1.1" />
<text x="348.85" y="504.20" font-size="8.3" fill="#5a5a5a" text-anchor="middle" font-weight="normal" >50</text>
<line x1="379.50" y1="491.50" x2="379.50" y2="495.10" stroke="#bdbdbd" stroke-width="1.1" />
<text x="379.93" y="504.20" font-size="8.3" fill="#5a5a5a" text-anchor="middle" font-weight="normal" >75</text>
<line x1="411.50" y1="491.50" x2="411.50" y2="495.10" stroke="#bdbdbd" stroke-width="1.1" />
<text x="411.00" y="504.20" font-size="8.3" fill="#5a5a5a" text-anchor="middle" font-weight="normal" >100</text>
<text x="349.00" y="518.70" font-size="8.7" fill="#484848" text-anchor="middle" font-weight="normal" >Days Post Infusion</text>
<text x="0" y="0" transform="translate(252.10,440.70) rotate(-90)" font-size="8.85" fill="#484848" text-anchor="middle" >Direct LDL-C</text>
<text x="0" y="0" transform="translate(262.50,440.70) rotate(-90)" font-size="8.85" fill="#484848" text-anchor="middle" >% change (mean +/- SD)</text>
<line x1="286.70" y1="413.40" x2="411.00" y2="413.40" stroke="#222" stroke-width="1.2" stroke-dasharray="1.2 2.0"/>
<polyline points="286.90,413.80 295.40,422.50 304.10,432.40 312.90,432.90 321.40,426.70 339.10,398.40 356.60,412.20 374.30,393.80 391.50,405.70 400.00,413.80" fill="none" stroke="#9a9a9a" stroke-width="1.2" stroke-linejoin="round" />
<circle cx="286.90" cy="413.80" r="2.4" fill="#9a9a9a" />
<circle cx="295.40" cy="422.50" r="2.4" fill="#9a9a9a" />
<circle cx="304.10" cy="432.40" r="2.4" fill="#9a9a9a" />
<circle cx="312.90" cy="432.90" r="2.4" fill="#9a9a9a" />
<circle cx="321.40" cy="426.70" r="2.4" fill="#9a9a9a" />
<circle cx="339.10" cy="398.40" r="2.4" fill="#9a9a9a" />
<circle cx="356.60" cy="412.20" r="2.4" fill="#9a9a9a" />
<circle cx="374.30" cy="393.80" r="2.4" fill="#9a9a9a" />
<circle cx="391.50" cy="405.70" r="2.4" fill="#9a9a9a" />
<circle cx="400.00" cy="413.80" r="2.4" fill="#9a9a9a" />
<polyline points="286.90,413.80 295.40,459.30 304.10,471.50 312.90,477.00 321.40,465.70 339.10,465.50 356.60,468.00 374.30,455.90 391.50,463.20 400.00,472.00" fill="none" stroke="#9c2a90" stroke-width="1.2" stroke-linejoin="round" />
<circle cx="295.40" cy="458.20" r="2.3" fill="#9c2a90" />
<circle cx="295.40" cy="460.00" r="2.3" fill="#9c2a90" />
<circle cx="304.10" cy="469.70" r="2.3" fill="#9c2a90" />
<circle cx="304.10" cy="473.10" r="2.3" fill="#9c2a90" />
<circle cx="312.90" cy="476.10" r="2.3" fill="#9c2a90" />
<circle cx="312.90" cy="478.40" r="2.3" fill="#9c2a90" />
<circle cx="321.40" cy="449.00" r="2.3" fill="#9c2a90" />
<circle cx="321.40" cy="468.50" r="2.3" fill="#9c2a90" />
<circle cx="321.40" cy="479.30" r="2.3" fill="#9c2a90" />
<circle cx="339.10" cy="458.90" r="2.3" fill="#9c2a90" />
<circle cx="339.10" cy="477.70" r="2.3" fill="#9c2a90" />
<circle cx="356.60" cy="463.20" r="2.3" fill="#9c2a90" />
<circle cx="356.60" cy="466.90" r="2.3" fill="#9c2a90" />
<circle cx="356.60" cy="475.90" r="2.3" fill="#9c2a90" />
<circle cx="374.30" cy="449.40" r="2.3" fill="#9c2a90" />
<circle cx="374.30" cy="450.80" r="2.3" fill="#9c2a90" />
<circle cx="374.30" cy="467.80" r="2.3" fill="#9c2a90" />
<circle cx="391.50" cy="445.50" r="2.3" fill="#9c2a90" />
<circle cx="391.50" cy="469.70" r="2.3" fill="#9c2a90" />
<circle cx="391.50" cy="475.90" r="2.3" fill="#9c2a90" />
<circle cx="400.00" cy="470.10" r="2.3" fill="#9c2a90" />
<circle cx="400.00" cy="474.90" r="2.3" fill="#9c2a90" />
<line x1="293.40" y1="366.00" x2="304.80" y2="366.00" stroke="#9a9a9a" stroke-width="1" />
<circle cx="299.20" cy="366.00" r="2.4" fill="#9a9a9a" />
<text x="311.80" y="369.20" font-size="8.8" fill="#a0a0a0" text-anchor="start" font-weight="normal" >Vehicle in <tspan font-style="italic">LDLR</tspan> KO (N=1)</text>
<line x1="293.40" y1="376.50" x2="304.80" y2="376.50" stroke="#9c2a90" stroke-width="1" />
<circle cx="299.20" cy="376.50" r="2.4" fill="#9c2a90" />
<text x="311.80" y="379.50" font-size="8.8" fill="#9c2a90" text-anchor="start" font-weight="normal" >GalNAc-LNP in <tspan font-style="italic">LDLR</tspan> KO (N=3)</text>
<text x="463.80" y="371.60" font-size="17.4" fill="#000" text-anchor="start" font-weight="bold" >h</text>
<line x1="493.50" y1="377.20" x2="493.50" y2="490.50" stroke="#777" stroke-width="1.1" />
<line x1="489.30" y1="486.50" x2="645.90" y2="486.50" stroke="#777" stroke-width="1.1" />
<line x1="489.30" y1="377.50" x2="493.40" y2="377.50" stroke="#777" stroke-width="1" />
<text x="487.30" y="380.20" font-size="8.7" fill="#5a5a5a" text-anchor="end" font-weight="normal" >0</text>
<line x1="489.30" y1="399.50" x2="493.40" y2="399.50" stroke="#777" stroke-width="1" />
<text x="487.30" y="402.06" font-size="8.7" fill="#5a5a5a" text-anchor="end" font-weight="normal" >-20</text>
<line x1="489.30" y1="420.50" x2="493.40" y2="420.50" stroke="#777" stroke-width="1" />
<text x="487.30" y="423.92" font-size="8.7" fill="#5a5a5a" text-anchor="end" font-weight="normal" >-40</text>
<line x1="489.30" y1="442.50" x2="493.40" y2="442.50" stroke="#777" stroke-width="1" />
<text x="487.30" y="445.78" font-size="8.7" fill="#5a5a5a" text-anchor="end" font-weight="normal" >-60</text>
<line x1="489.30" y1="464.50" x2="493.40" y2="464.50" stroke="#777" stroke-width="1" />
<text x="487.30" y="467.64" font-size="8.7" fill="#5a5a5a" text-anchor="end" font-weight="normal" >-80</text>
<line x1="489.30" y1="486.50" x2="493.40" y2="486.50" stroke="#777" stroke-width="1" />
<text x="487.30" y="489.50" font-size="8.7" fill="#5a5a5a" text-anchor="end" font-weight="normal" >-100</text>
<line x1="497.50" y1="486.50" x2="497.50" y2="488.80" stroke="#777" stroke-width="1" />
<line x1="501.50" y1="486.50" x2="501.50" y2="488.80" stroke="#777" stroke-width="1" />
<line x1="504.50" y1="486.50" x2="504.50" y2="488.80" stroke="#777" stroke-width="1" />
<line x1="508.50" y1="486.50" x2="508.50" y2="488.80" stroke="#777" stroke-width="1" />
<line x1="512.50" y1="486.50" x2="512.50" y2="490.70" stroke="#777" stroke-width="1" />
<line x1="516.50" y1="486.50" x2="516.50" y2="488.80" stroke="#777" stroke-width="1" />
<line x1="520.50" y1="486.50" x2="520.50" y2="488.80" stroke="#777" stroke-width="1" />
<line x1="523.50" y1="486.50" x2="523.50" y2="488.80" stroke="#777" stroke-width="1" />
<line x1="527.50" y1="486.50" x2="527.50" y2="488.80" stroke="#777" stroke-width="1" />
<line x1="531.50" y1="486.50" x2="531.50" y2="490.70" stroke="#777" stroke-width="1" />
<line x1="535.50" y1="486.50" x2="535.50" y2="488.80" stroke="#777" stroke-width="1" />
<line x1="539.50" y1="486.50" x2="539.50" y2="488.80" stroke="#777" stroke-width="1" />
<line x1="542.50" y1="486.50" x2="542.50" y2="488.80" stroke="#777" stroke-width="1" />
<line x1="546.50" y1="486.50" x2="546.50" y2="488.80" stroke="#777" stroke-width="1" />
<line x1="550.50" y1="486.50" x2="550.50" y2="490.70" stroke="#777" stroke-width="1" />
<line x1="554.50" y1="486.50" x2="554.50" y2="488.80" stroke="#777" stroke-width="1" />
<line x1="558.50" y1="486.50" x2="558.50" y2="488.80" stroke="#777" stroke-width="1" />
<line x1="562.50" y1="486.50" x2="562.50" y2="488.80" stroke="#777" stroke-width="1" />
<line x1="565.50" y1="486.50" x2="565.50" y2="488.80" stroke="#777" stroke-width="1" />
<line x1="569.50" y1="486.50" x2="569.50" y2="490.70" stroke="#777" stroke-width="1" />
<line x1="573.50" y1="486.50" x2="573.50" y2="488.80" stroke="#777" stroke-width="1" />
<line x1="577.50" y1="486.50" x2="577.50" y2="488.80" stroke="#777" stroke-width="1" />
<line x1="581.50" y1="486.50" x2="581.50" y2="488.80" stroke="#777" stroke-width="1" />
<line x1="584.50" y1="486.50" x2="584.50" y2="488.80" stroke="#777" stroke-width="1" />
<line x1="588.50" y1="486.50" x2="588.50" y2="490.70" stroke="#777" stroke-width="1" />
<line x1="592.50" y1="486.50" x2="592.50" y2="488.80" stroke="#777" stroke-width="1" />
<line x1="596.50" y1="486.50" x2="596.50" y2="488.80" stroke="#777" stroke-width="1" />
<line x1="600.50" y1="486.50" x2="600.50" y2="488.80" stroke="#777" stroke-width="1" />
<line x1="603.50" y1="486.50" x2="603.50" y2="488.80" stroke="#777" stroke-width="1" />
<line x1="607.50" y1="486.50" x2="607.50" y2="490.70" stroke="#777" stroke-width="1" />
<line x1="611.50" y1="486.50" x2="611.50" y2="488.80" stroke="#777" stroke-width="1" />
<line x1="615.50" y1="486.50" x2="615.50" y2="488.80" stroke="#777" stroke-width="1" />
<line x1="619.50" y1="486.50" x2="619.50" y2="488.80" stroke="#777" stroke-width="1" />
<line x1="623.50" y1="486.50" x2="623.50" y2="488.80" stroke="#777" stroke-width="1" />
<line x1="626.50" y1="486.50" x2="626.50" y2="490.70" stroke="#777" stroke-width="1" />
<line x1="630.50" y1="486.50" x2="630.50" y2="488.80" stroke="#777" stroke-width="1" />
<line x1="634.50" y1="486.50" x2="634.50" y2="488.80" stroke="#777" stroke-width="1" />
<line x1="638.50" y1="486.50" x2="638.50" y2="488.80" stroke="#777" stroke-width="1" />
<line x1="642.50" y1="486.50" x2="642.50" y2="488.80" stroke="#777" stroke-width="1" />
<line x1="645.50" y1="486.50" x2="645.50" y2="490.70" stroke="#777" stroke-width="1" />
<text x="493.40" y="500.50" font-size="8.6" fill="#5a5a5a" text-anchor="middle" font-weight="normal" >0</text>
<text x="512.46" y="500.50" font-size="8.6" fill="#5a5a5a" text-anchor="middle" font-weight="normal" >25</text>
<text x="531.52" y="500.50" font-size="8.6" fill="#5a5a5a" text-anchor="middle" font-weight="normal" >50</text>
<text x="550.59" y="500.50" font-size="8.6" fill="#5a5a5a" text-anchor="middle" font-weight="normal" >75</text>
<text x="569.65" y="500.50" font-size="8.6" fill="#5a5a5a" text-anchor="middle" font-weight="normal" >100</text>
<text x="588.71" y="500.50" font-size="8.6" fill="#5a5a5a" text-anchor="middle" font-weight="normal" >125</text>
<text x="607.77" y="500.50" font-size="8.6" fill="#5a5a5a" text-anchor="middle" font-weight="normal" >150</text>
<text x="626.84" y="500.50" font-size="8.6" fill="#5a5a5a" text-anchor="middle" font-weight="normal" >175</text>
<text x="645.90" y="500.50" font-size="8.6" fill="#5a5a5a" text-anchor="middle" font-weight="normal" >200</text>
<text x="569.90" y="515.80" font-size="9.8" fill="#484848" text-anchor="middle" font-weight="normal" >Days Post Infusion</text>
<text x="0" y="0" transform="translate(455.90,436.00) rotate(-90)" font-size="9.7" fill="#484848" text-anchor="middle" >ANGPTL3 protein</text>
<text x="0" y="0" transform="translate(467.70,436.00) rotate(-90)" font-size="9.7" fill="#484848" text-anchor="middle" >% change (mean +/- SD)</text>
<line x1="493.40" y1="377.20" x2="645.50" y2="377.20" stroke="#222" stroke-width="1.2" stroke-dasharray="1.2 2.3"/>
<polyline points="499.10,466.20 504.20,464.80 509.90,466.80 514.90,458.00 525.60,452.80 536.50,454.80 547.20,461.80 557.40,468.80 562.40,446.90 599.60,445.00 633.20,454.80" fill="none" stroke="#a3a3a3" stroke-width="1" stroke-linejoin="round" />
<line x1="499.10" y1="456.60" x2="499.10" y2="475.80" stroke="#a3a3a3" stroke-width="1.0" />
<line x1="496.80" y1="456.60" x2="501.40" y2="456.60" stroke="#a3a3a3" stroke-width="1.0" />
<line x1="496.80" y1="475.80" x2="501.40" y2="475.80" stroke="#a3a3a3" stroke-width="1.0" />
<circle cx="499.10" cy="466.20" r="2.4" fill="#a3a3a3" />
<line x1="504.20" y1="450.40" x2="504.20" y2="479.20" stroke="#a3a3a3" stroke-width="1.0" />
<line x1="501.90" y1="450.40" x2="506.50" y2="450.40" stroke="#a3a3a3" stroke-width="1.0" />
<line x1="501.90" y1="479.20" x2="506.50" y2="479.20" stroke="#a3a3a3" stroke-width="1.0" />
<circle cx="504.20" cy="464.80" r="2.4" fill="#a3a3a3" />
<line x1="509.90" y1="455.10" x2="509.90" y2="478.50" stroke="#a3a3a3" stroke-width="1.0" />
<line x1="507.60" y1="455.10" x2="512.20" y2="455.10" stroke="#a3a3a3" stroke-width="1.0" />
<line x1="507.60" y1="478.50" x2="512.20" y2="478.50" stroke="#a3a3a3" stroke-width="1.0" />
<circle cx="509.90" cy="466.80" r="2.4" fill="#a3a3a3" />
<line x1="514.90" y1="440.50" x2="514.90" y2="475.50" stroke="#a3a3a3" stroke-width="1.0" />
<line x1="512.60" y1="440.50" x2="517.20" y2="440.50" stroke="#a3a3a3" stroke-width="1.0" />
<line x1="512.60" y1="475.50" x2="517.20" y2="475.50" stroke="#a3a3a3" stroke-width="1.0" />
<circle cx="514.90" cy="458.00" r="2.4" fill="#a3a3a3" />
<line x1="525.60" y1="434.30" x2="525.60" y2="471.30" stroke="#a3a3a3" stroke-width="1.0" />
<line x1="523.30" y1="434.30" x2="527.90" y2="434.30" stroke="#a3a3a3" stroke-width="1.0" />
<line x1="523.30" y1="471.30" x2="527.90" y2="471.30" stroke="#a3a3a3" stroke-width="1.0" />
<circle cx="525.60" cy="452.80" r="2.4" fill="#a3a3a3" />
<line x1="536.50" y1="439.10" x2="536.50" y2="470.50" stroke="#a3a3a3" stroke-width="1.0" />
<line x1="534.20" y1="439.10" x2="538.80" y2="439.10" stroke="#a3a3a3" stroke-width="1.0" />
<line x1="534.20" y1="470.50" x2="538.80" y2="470.50" stroke="#a3a3a3" stroke-width="1.0" />
<circle cx="536.50" cy="454.80" r="2.4" fill="#a3a3a3" />
<line x1="547.20" y1="452.20" x2="547.20" y2="471.40" stroke="#a3a3a3" stroke-width="1.0" />
<line x1="544.90" y1="452.20" x2="549.50" y2="452.20" stroke="#a3a3a3" stroke-width="1.0" />
<line x1="544.90" y1="471.40" x2="549.50" y2="471.40" stroke="#a3a3a3" stroke-width="1.0" />
<circle cx="547.20" cy="461.80" r="2.4" fill="#a3a3a3" />
<line x1="557.40" y1="458.30" x2="557.40" y2="479.30" stroke="#a3a3a3" stroke-width="1.0" />
<line x1="555.10" y1="458.30" x2="559.70" y2="458.30" stroke="#a3a3a3" stroke-width="1.0" />
<line x1="555.10" y1="479.30" x2="559.70" y2="479.30" stroke="#a3a3a3" stroke-width="1.0" />
<circle cx="557.40" cy="468.80" r="2.4" fill="#a3a3a3" />
<line x1="562.40" y1="435.30" x2="562.40" y2="458.50" stroke="#a3a3a3" stroke-width="1.0" />
<line x1="560.10" y1="435.30" x2="564.70" y2="435.30" stroke="#a3a3a3" stroke-width="1.0" />
<line x1="560.10" y1="458.50" x2="564.70" y2="458.50" stroke="#a3a3a3" stroke-width="1.0" />
<circle cx="562.40" cy="446.90" r="2.4" fill="#a3a3a3" />
<line x1="599.60" y1="438.60" x2="599.60" y2="451.40" stroke="#a3a3a3" stroke-width="1.0" />
<line x1="597.30" y1="438.60" x2="601.90" y2="438.60" stroke="#a3a3a3" stroke-width="1.0" />
<line x1="597.30" y1="451.40" x2="601.90" y2="451.40" stroke="#a3a3a3" stroke-width="1.0" />
<circle cx="599.60" cy="445.00" r="2.4" fill="#a3a3a3" />
<line x1="633.20" y1="435.20" x2="633.20" y2="474.40" stroke="#a3a3a3" stroke-width="1.0" />
<line x1="630.90" y1="435.20" x2="635.50" y2="435.20" stroke="#a3a3a3" stroke-width="1.0" />
<line x1="630.90" y1="474.40" x2="635.50" y2="474.40" stroke="#a3a3a3" stroke-width="1.0" />
<circle cx="633.20" cy="454.80" r="2.4" fill="#a3a3a3" />
<polyline points="493.90,377.20 499.10,474.10 504.20,470.90 509.90,476.50 514.90,474.10 525.60,476.20 536.50,473.00 547.20,475.80 557.40,477.30 562.40,472.00 599.60,473.10 633.20,473.90" fill="none" stroke="#7d0a7d" stroke-width="1" stroke-linejoin="round" />
<polyline points="494.40,377.20 499.10,480.80 504.20,479.60 509.90,481.40 514.90,482.30 525.60,477.90 536.50,478.50 547.20,479.00 557.40,480.20 562.40,476.10" fill="none" stroke="#e6bdf0" stroke-width="1" stroke-linejoin="round" />
<line x1="499.10" y1="467.40" x2="499.10" y2="480.80" stroke="#7d0a7d" stroke-width="1.0" />
<line x1="496.80" y1="467.40" x2="501.40" y2="467.40" stroke="#7d0a7d" stroke-width="1.0" />
<line x1="496.80" y1="480.80" x2="501.40" y2="480.80" stroke="#7d0a7d" stroke-width="1.0" />
<circle cx="499.10" cy="474.10" r="2.3" fill="#7d0a7d" />
<line x1="504.20" y1="459.20" x2="504.20" y2="482.60" stroke="#7d0a7d" stroke-width="1.0" />
<line x1="501.90" y1="459.20" x2="506.50" y2="459.20" stroke="#7d0a7d" stroke-width="1.0" />
<line x1="501.90" y1="482.60" x2="506.50" y2="482.60" stroke="#7d0a7d" stroke-width="1.0" />
<circle cx="504.20" cy="470.90" r="2.3" fill="#7d0a7d" />
<line x1="509.90" y1="469.70" x2="509.90" y2="483.30" stroke="#7d0a7d" stroke-width="1.0" />
<line x1="507.60" y1="469.70" x2="512.20" y2="469.70" stroke="#7d0a7d" stroke-width="1.0" />
<line x1="507.60" y1="483.30" x2="512.20" y2="483.30" stroke="#7d0a7d" stroke-width="1.0" />
<circle cx="509.90" cy="476.50" r="2.3" fill="#7d0a7d" />
<line x1="514.90" y1="464.50" x2="514.90" y2="483.70" stroke="#7d0a7d" stroke-width="1.0" />
<line x1="512.60" y1="464.50" x2="517.20" y2="464.50" stroke="#7d0a7d" stroke-width="1.0" />
<line x1="512.60" y1="483.70" x2="517.20" y2="483.70" stroke="#7d0a7d" stroke-width="1.0" />
<circle cx="514.90" cy="474.10" r="2.3" fill="#7d0a7d" />
<line x1="525.60" y1="468.80" x2="525.60" y2="483.60" stroke="#7d0a7d" stroke-width="1.0" />
<line x1="523.30" y1="468.80" x2="527.90" y2="468.80" stroke="#7d0a7d" stroke-width="1.0" />
<line x1="523.30" y1="483.60" x2="527.90" y2="483.60" stroke="#7d0a7d" stroke-width="1.0" />
<circle cx="525.60" cy="476.20" r="2.3" fill="#7d0a7d" />
<line x1="536.50" y1="464.50" x2="536.50" y2="481.50" stroke="#7d0a7d" stroke-width="1.0" />
<line x1="534.20" y1="464.50" x2="538.80" y2="464.50" stroke="#7d0a7d" stroke-width="1.0" />
<line x1="534.20" y1="481.50" x2="538.80" y2="481.50" stroke="#7d0a7d" stroke-width="1.0" />
<circle cx="536.50" cy="473.00" r="2.3" fill="#7d0a7d" />
<line x1="547.20" y1="467.40" x2="547.20" y2="484.20" stroke="#7d0a7d" stroke-width="1.0" />
<line x1="544.90" y1="467.40" x2="549.50" y2="467.40" stroke="#7d0a7d" stroke-width="1.0" />
<line x1="544.90" y1="484.20" x2="549.50" y2="484.20" stroke="#7d0a7d" stroke-width="1.0" />
<circle cx="547.20" cy="475.80" r="2.3" fill="#7d0a7d" />
<line x1="557.40" y1="470.30" x2="557.40" y2="484.30" stroke="#7d0a7d" stroke-width="1.0" />
<line x1="555.10" y1="470.30" x2="559.70" y2="470.30" stroke="#7d0a7d" stroke-width="1.0" />
<line x1="555.10" y1="484.30" x2="559.70" y2="484.30" stroke="#7d0a7d" stroke-width="1.0" />
<circle cx="557.40" cy="477.30" r="2.3" fill="#7d0a7d" />
<line x1="562.40" y1="463.30" x2="562.40" y2="480.70" stroke="#7d0a7d" stroke-width="1.0" />
<line x1="560.10" y1="463.30" x2="564.70" y2="463.30" stroke="#7d0a7d" stroke-width="1.0" />
<line x1="560.10" y1="480.70" x2="564.70" y2="480.70" stroke="#7d0a7d" stroke-width="1.0" />
<circle cx="562.40" cy="472.00" r="2.3" fill="#7d0a7d" />
<line x1="599.60" y1="466.60" x2="599.60" y2="479.60" stroke="#7d0a7d" stroke-width="1.0" />
<line x1="597.30" y1="466.60" x2="601.90" y2="466.60" stroke="#7d0a7d" stroke-width="1.0" />
<line x1="597.30" y1="479.60" x2="601.90" y2="479.60" stroke="#7d0a7d" stroke-width="1.0" />
<circle cx="599.60" cy="473.10" r="2.3" fill="#7d0a7d" />
<line x1="633.20" y1="466.80" x2="633.20" y2="481.00" stroke="#7d0a7d" stroke-width="1.0" />
<line x1="630.90" y1="466.80" x2="635.50" y2="466.80" stroke="#7d0a7d" stroke-width="1.0" />
<line x1="630.90" y1="481.00" x2="635.50" y2="481.00" stroke="#7d0a7d" stroke-width="1.0" />
<circle cx="633.20" cy="473.90" r="2.3" fill="#7d0a7d" />
<line x1="499.10" y1="475.80" x2="499.10" y2="485.80" stroke="#e6bdf0" stroke-width="1.0" />
<line x1="496.80" y1="475.80" x2="501.40" y2="475.80" stroke="#e6bdf0" stroke-width="1.0" />
<line x1="496.80" y1="485.80" x2="501.40" y2="485.80" stroke="#e6bdf0" stroke-width="1.0" />
<circle cx="499.10" cy="480.80" r="2.6" fill="#e6bdf0" />
<line x1="504.20" y1="475.10" x2="504.20" y2="484.10" stroke="#e6bdf0" stroke-width="1.0" />
<line x1="501.90" y1="475.10" x2="506.50" y2="475.10" stroke="#e6bdf0" stroke-width="1.0" />
<line x1="501.90" y1="484.10" x2="506.50" y2="484.10" stroke="#e6bdf0" stroke-width="1.0" />
<circle cx="504.20" cy="479.60" r="2.6" fill="#e6bdf0" />
<line x1="509.90" y1="476.90" x2="509.90" y2="485.90" stroke="#e6bdf0" stroke-width="1.0" />
<line x1="507.60" y1="476.90" x2="512.20" y2="476.90" stroke="#e6bdf0" stroke-width="1.0" />
<line x1="507.60" y1="485.90" x2="512.20" y2="485.90" stroke="#e6bdf0" stroke-width="1.0" />
<circle cx="509.90" cy="481.40" r="2.6" fill="#e6bdf0" />
<line x1="514.90" y1="477.80" x2="514.90" y2="486.80" stroke="#e6bdf0" stroke-width="1.0" />
<line x1="512.60" y1="477.80" x2="517.20" y2="477.80" stroke="#e6bdf0" stroke-width="1.0" />
<line x1="512.60" y1="486.80" x2="517.20" y2="486.80" stroke="#e6bdf0" stroke-width="1.0" />
<circle cx="514.90" cy="482.30" r="2.6" fill="#e6bdf0" />
<line x1="525.60" y1="470.90" x2="525.60" y2="484.90" stroke="#e6bdf0" stroke-width="1.0" />
<line x1="523.30" y1="470.90" x2="527.90" y2="470.90" stroke="#e6bdf0" stroke-width="1.0" />
<line x1="523.30" y1="484.90" x2="527.90" y2="484.90" stroke="#e6bdf0" stroke-width="1.0" />
<circle cx="525.60" cy="477.90" r="2.6" fill="#e6bdf0" />
<line x1="536.50" y1="473.00" x2="536.50" y2="484.00" stroke="#e6bdf0" stroke-width="1.0" />
<line x1="534.20" y1="473.00" x2="538.80" y2="473.00" stroke="#e6bdf0" stroke-width="1.0" />
<line x1="534.20" y1="484.00" x2="538.80" y2="484.00" stroke="#e6bdf0" stroke-width="1.0" />
<circle cx="536.50" cy="478.50" r="2.6" fill="#e6bdf0" />
<line x1="547.20" y1="473.50" x2="547.20" y2="484.50" stroke="#e6bdf0" stroke-width="1.0" />
<line x1="544.90" y1="473.50" x2="549.50" y2="473.50" stroke="#e6bdf0" stroke-width="1.0" />
<line x1="544.90" y1="484.50" x2="549.50" y2="484.50" stroke="#e6bdf0" stroke-width="1.0" />
<circle cx="547.20" cy="479.00" r="2.6" fill="#e6bdf0" />
<line x1="557.40" y1="474.70" x2="557.40" y2="485.70" stroke="#e6bdf0" stroke-width="1.0" />
<line x1="555.10" y1="474.70" x2="559.70" y2="474.70" stroke="#e6bdf0" stroke-width="1.0" />
<line x1="555.10" y1="485.70" x2="559.70" y2="485.70" stroke="#e6bdf0" stroke-width="1.0" />
<circle cx="557.40" cy="480.20" r="2.6" fill="#e6bdf0" />
<line x1="562.40" y1="470.10" x2="562.40" y2="482.10" stroke="#e6bdf0" stroke-width="1.0" />
<line x1="560.10" y1="470.10" x2="564.70" y2="470.10" stroke="#e6bdf0" stroke-width="1.0" />
<line x1="560.10" y1="482.10" x2="564.70" y2="482.10" stroke="#e6bdf0" stroke-width="1.0" />
<circle cx="562.40" cy="476.10" r="2.6" fill="#e6bdf0" />
<circle cx="493.90" cy="377.20" r="2.4" fill="#e6bdf0" />
<line x1="550.10" y1="391.60" x2="563.40" y2="391.60" stroke="#a3a3a3" stroke-width="1" />
<circle cx="556.60" cy="391.60" r="2.6" fill="#a3a3a3" />
<text x="569.90" y="394.70" font-size="8.15" fill="#a0a0a0" text-anchor="start" font-weight="normal" >Standard LNP in WT (N=3)</text>
<line x1="550.10" y1="401.90" x2="563.40" y2="401.90" stroke="#7d0a7d" stroke-width="1" />
<circle cx="556.60" cy="401.90" r="2.6" fill="#7d0a7d" />
<text x="569.90" y="405.00" font-size="8.15" fill="#7d0a7d" text-anchor="start" font-weight="normal" >GalNAc-LNP in WT (N=3)</text>
<line x1="550.10" y1="413.10" x2="563.40" y2="413.10" stroke="#e6bdf0" stroke-width="1" />
<circle cx="556.60" cy="413.10" r="2.6" fill="#e6bdf0" />
<text x="569.90" y="416.20" font-size="8.15" fill="#e6bdf0" text-anchor="start" font-weight="normal" >GalNAc-LNP in <tspan font-style="italic">LDLR</tspan> KO (N=3)</text>
</svg></body></html>
